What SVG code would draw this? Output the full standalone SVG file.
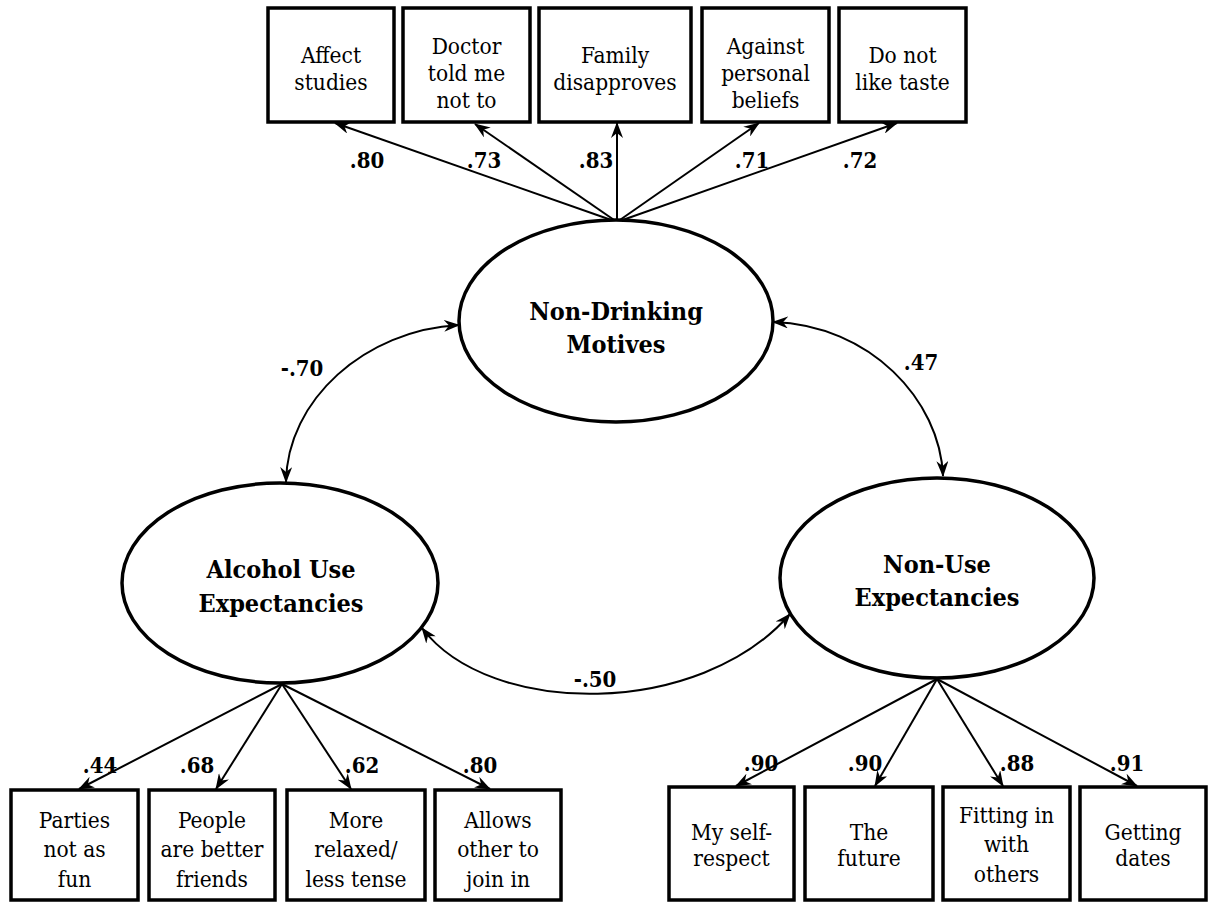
<svg xmlns="http://www.w3.org/2000/svg" width="1208" height="903" viewBox="0 0 1208 903">
<defs>
<style>
.box{fill:#fff;stroke:#000;stroke-width:3.5}
.lat{fill:#fff;stroke:#000;stroke-width:3.5}
.t{font-family:'DejaVu Serif Condensed','DejaVu Serif',serif;font-stretch:condensed;font-size:22.5px;fill:#000;text-anchor:middle}
.lt{font-family:'DejaVu Serif Condensed','DejaVu Serif',serif;font-stretch:condensed;font-size:25px;font-weight:bold;fill:#000;text-anchor:middle}
.n{font-family:'DejaVu Serif Condensed','DejaVu Serif',serif;font-stretch:condensed;font-size:22px;font-weight:bold;fill:#000;text-anchor:middle}
.c{fill:none;stroke:#000;stroke-width:2}
</style>
<marker id="ah" viewBox="0 0 16 12" refX="15" refY="6" markerWidth="16" markerHeight="12" orient="auto-start-reverse" markerUnits="userSpaceOnUse">
<path d="M0,0 L16,6 L0,12 L5,6 Z" fill="#000"/>
</marker>
</defs>
<rect width="1208" height="903" fill="#fff"/>

<g id="connectors">
<line class="c" x1="617" y1="222" x2="335" y2="123" marker-end="url(#ah)"/>
<line class="c" x1="617" y1="222" x2="475" y2="124" marker-end="url(#ah)"/>
<line class="c" x1="617" y1="222" x2="617" y2="123" marker-end="url(#ah)"/>
<line class="c" x1="617" y1="222" x2="759" y2="123" marker-end="url(#ah)"/>
<line class="c" x1="617" y1="222" x2="897" y2="123" marker-end="url(#ah)"/>
<path class="c" d="M459,325 C365,330 287,400 286,482" marker-start="url(#ah)" marker-end="url(#ah)"/>
<path class="c" d="M773,322 C870,325 940,400 943,476" marker-start="url(#ah)" marker-end="url(#ah)"/>
<path class="c" d="M422,628 C490,718 700,718 790,614" marker-start="url(#ah)" marker-end="url(#ah)"/>
<line class="c" x1="282" y1="684" x2="79" y2="789" marker-end="url(#ah)"/>
<line class="c" x1="282" y1="684" x2="216" y2="789" marker-end="url(#ah)"/>
<line class="c" x1="282" y1="684" x2="351" y2="789" marker-end="url(#ah)"/>
<line class="c" x1="282" y1="684" x2="490" y2="789" marker-end="url(#ah)"/>
<line class="c" x1="937" y1="679" x2="736" y2="786" marker-end="url(#ah)"/>
<line class="c" x1="937" y1="679" x2="875" y2="786" marker-end="url(#ah)"/>
<line class="c" x1="937" y1="679" x2="1003" y2="786" marker-end="url(#ah)"/>
<line class="c" x1="937" y1="679" x2="1137" y2="786" marker-end="url(#ah)"/>
<text class="n" x="367" y="168">.80</text>
<text class="n" x="484" y="168">.73</text>
<text class="n" x="596" y="168">.83</text>
<text class="n" x="752" y="168">.71</text>
<text class="n" x="860" y="168">.72</text>
<text class="n" x="302" y="376">-.70</text>
<text class="n" x="921" y="370">.47</text>
<text class="n" x="595" y="687">-.50</text>
<text class="n" x="100" y="773">.44</text>
<text class="n" x="197" y="773">.68</text>
<text class="n" x="362" y="773">.62</text>
<text class="n" x="480" y="773">.80</text>
<text class="n" x="761" y="771">.90</text>
<text class="n" x="865" y="771">.90</text>
<text class="n" x="1017" y="771">.88</text>
<text class="n" x="1127" y="771">.91</text>
</g>

<g id="ndm">
<ellipse class="lat" cx="616" cy="321" rx="157" ry="101"/>
<text class="lt" x="616" y="320">Non-Drinking</text>
<text class="lt" x="616" y="353">Motives</text>
</g>
<g id="aue">
<ellipse class="lat" cx="280" cy="583" rx="158" ry="100"/>
<text class="lt" x="281" y="578">Alcohol Use</text>
<text class="lt" x="281" y="612">Expectancies</text>
</g>
<g id="nue">
<ellipse class="lat" cx="937" cy="578" rx="157" ry="100"/>
<text class="lt" x="937" y="573">Non-Use</text>
<text class="lt" x="937" y="606">Expectancies</text>
</g>

<g id="top1"><rect class="box" x="268" y="8" width="126" height="114"/>
<text class="t" x="331" y="63">Affect</text><text class="t" x="331" y="90">studies</text></g>
<g id="top2"><rect class="box" x="403" y="8" width="127" height="114"/>
<text class="t" x="466.5" y="54">Doctor</text><text class="t" x="466.5" y="81">told me</text><text class="t" x="466.5" y="108">not to</text></g>
<g id="top3"><rect class="box" x="539" y="8" width="152" height="114"/>
<text class="t" x="615" y="63">Family</text><text class="t" x="615" y="90">disapproves</text></g>
<g id="top4"><rect class="box" x="702" y="8" width="127" height="114"/>
<text class="t" x="765.5" y="54">Against</text><text class="t" x="765.5" y="81">personal</text><text class="t" x="765.5" y="108">beliefs</text></g>
<g id="top5"><rect class="box" x="839" y="8" width="127" height="114"/>
<text class="t" x="902.5" y="63">Do not</text><text class="t" x="902.5" y="90">like taste</text></g>

<g id="bl1"><rect class="box" x="11" y="790" width="127" height="110"/>
<text class="t" x="74.5" y="828">Parties</text><text class="t" x="74.5" y="857">not as</text><text class="t" x="74.5" y="887">fun</text></g>
<g id="bl2"><rect class="box" x="149" y="790" width="126" height="110"/>
<text class="t" x="212" y="828">People</text><text class="t" x="212" y="857">are better</text><text class="t" x="212" y="887">friends</text></g>
<g id="bl3"><rect class="box" x="287" y="790" width="138" height="110"/>
<text class="t" x="356" y="828">More</text><text class="t" x="356" y="857">relaxed/</text><text class="t" x="356" y="887">less tense</text></g>
<g id="bl4"><rect class="box" x="435" y="790" width="126" height="110"/>
<text class="t" x="498" y="828">Allows</text><text class="t" x="498" y="857">other to</text><text class="t" x="498" y="887">join in</text></g>

<g id="br1"><rect class="box" x="669" y="787" width="125" height="113"/>
<text class="t" x="731.5" y="840">My self-</text><text class="t" x="731.5" y="866">respect</text></g>
<g id="br2"><rect class="box" x="805" y="787" width="128" height="113"/>
<text class="t" x="869" y="840">The</text><text class="t" x="869" y="866">future</text></g>
<g id="br3"><rect class="box" x="943" y="787" width="127" height="113"/>
<text class="t" x="1006.5" y="823">Fitting in</text><text class="t" x="1006.5" y="852">with</text><text class="t" x="1006.5" y="882">others</text></g>
<g id="br4"><rect class="box" x="1080" y="787" width="126" height="113"/>
<text class="t" x="1143" y="840">Getting</text><text class="t" x="1143" y="866">dates</text></g>
</svg>
